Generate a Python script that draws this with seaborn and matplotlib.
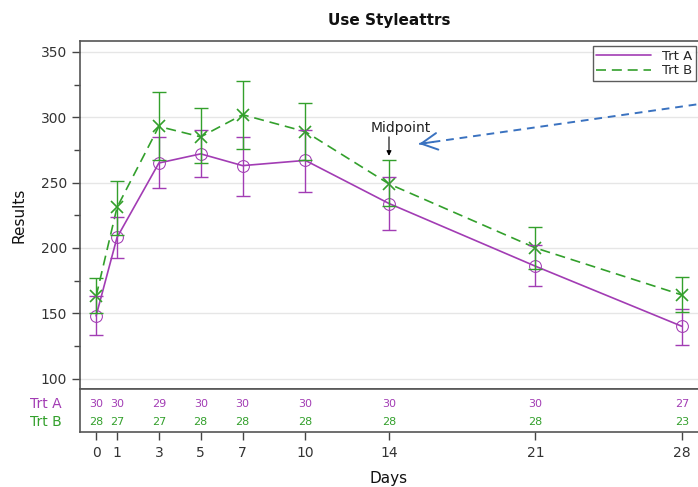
import matplotlib
matplotlib.use("Agg")
import matplotlib.pyplot as plt
import seaborn as sns
import pandas as pd
import numpy as np
from matplotlib.lines import Line2D

days = [0, 1, 3, 5, 7, 10, 14, 21, 28]
trt_a_mean = [148, 208, 265, 272, 263, 267, 234, 186, 140]
trt_a_low = [133, 192, 246, 254, 240, 243, 214, 171, 126]
trt_a_high = [163, 224, 285, 290, 285, 290, 254, 202, 153]
trt_b_mean = [163, 231, 293, 285, 302, 289, 249, 200, 164]
trt_b_low = [150, 210, 267, 265, 276, 267, 232, 184, 151]
trt_b_high = [177, 251, 319, 307, 328, 311, 267, 216, 178]
trt_a_n = [30, 30, 29, 30, 30, 30, 30, 30, 27]
trt_b_n = [28, 27, 27, 28, 28, 28, 28, 28, 23]
groups = ["Trt A", "Trt B"]
yticks = [100, 150, 200, 250, 300, 350]

col_a = "#a23cb4"
col_b = "#33a02c"
palette = {"Trt A": col_a, "Trt B": col_b}

df = pd.DataFrame({
    "Days": days * 2,
    "Results": trt_a_mean + trt_b_mean,
    "Trt": ["Trt A"] * len(days) + ["Trt B"] * len(days),
})

sns.set_theme(style="white")
plt.rcParams["font.family"] = ["DejaVu Sans"]

fig = plt.figure(figsize=(6.98, 4.87), dpi=100)
W, H = 698, 487
left = 80 / W
right = 1.0
ax = fig.add_axes([left, 1 - 389 / H, right - left, (389 - 41) / H])
axt = fig.add_axes([left, 1 - 432 / H, right - left, (432 - 389) / H], sharex=ax)

sns.lineplot(data=df, x="Days", y="Results", hue="Trt", style="Trt",
             palette=palette, markers={"Trt A": "o", "Trt B": "X"},
             dashes={"Trt A": "", "Trt B": (6, 3.5)}, ax=ax, linewidth=1.2,
             legend=False)
for line, c in zip(ax.lines, [col_a, col_b]):
    line.set_markerfacecolor("none")
    line.set_markeredgecolor(c)
ax.lines[0].set_marker("o")
ax.lines[0].set_markersize(8.5)
ax.lines[1].set_marker("x")
ax.lines[1].set_markersize(9)
ax.lines[1].set_markeredgewidth(1.2)

for mean, lo, hi, c in [(trt_a_mean, trt_a_low, trt_a_high, col_a),
                        (trt_b_mean, trt_b_low, trt_b_high, col_b)]:
    m = np.array(mean)
    err = [m - np.array(lo), np.array(hi) - m]
    ax.errorbar(days, m, yerr=err, fmt="none", ecolor=c, elinewidth=1.0,
                capsize=5, capthick=1.0)

ax.set_xlim(-0.77, 28.77)
ax.set_ylim(92, 358.4)
ax.set_yticks(yticks)
ax.set_yticks([125, 175, 225, 275, 325], minor=True)
ax.tick_params(axis="y", which="major", length=6, width=1, color="#444444",
               labelsize=10, labelcolor="#333333", left=True)
ax.tick_params(axis="y", which="minor", length=4, width=1, color="#444444", left=True)
ax.grid(axis="y", color="#e6e6e6", linewidth=1)
ax.tick_params(axis="x", bottom=False, labelbottom=False)
ax.set_xlabel("")
ax.set_ylabel("Results", fontsize=11, color="#111111", labelpad=10)
for s in ax.spines.values():
    s.set_color("#555555")
    s.set_linewidth(1.2)
ax.spines["right"].set_visible(False)

handles = [Line2D([], [], color=col_a, lw=1.2),
           Line2D([], [], color=col_b, lw=1.2, dashes=(6, 3.5))]
leg = ax.legend(handles, groups, loc="upper right", bbox_to_anchor=(0.996, 0.985),
                frameon=True, fancybox=False, fontsize=9.5, handlelength=4.2,
                borderpad=0.25, labelspacing=0.15, handletextpad=0.8,
                borderaxespad=0)
leg.get_frame().set_edgecolor("#333333")
leg.get_frame().set_linewidth(1.0)

# Midpoint annotation
ax.annotate("", xy=(14, 270.5), xytext=(14, 285),
            arrowprops=dict(arrowstyle="-|>", color="black", lw=0.8,
                            mutation_scale=7, shrinkA=0, shrinkB=0))
ax.text(14.55, 286.5, "Midpoint", ha="center", va="bottom", fontsize=10, color="#222222")

# blue dashed arrow
tip = (15.44, 279.6)
tail = (28.77, 310)
ax.plot([tip[0], tail[0]], [tip[1], tail[1]], color="#3a72c0", lw=1.4,
        linestyle=(0, (4, 3)), clip_on=False)
dx, dy = tail[0] - tip[0], tail[1] - tip[1]
ax.annotate("", xy=tip, xytext=(tip[0] + dx * 0.05, tip[1] + dy * 0.05),
            arrowprops=dict(arrowstyle="->,head_length=0.58,head_width=0.3",
                            color="#3a72c0", lw=1.4, mutation_scale=20,
                            shrinkA=0, shrinkB=0, linestyle="-"))

# table axes
axt.set_ylim(0, 1)
for d, n in zip(days, trt_a_n):
    axt.text(d, 0.64, str(n), ha="center", va="center", fontsize=8, color=col_a)
for d, n in zip(days, trt_b_n):
    axt.text(d, 0.23, str(n), ha="center", va="center", fontsize=8, color=col_b)
axt.text(-0.03, 0.64, "Trt A", transform=axt.transAxes, ha="right", va="center",
         fontsize=10, color=col_a)
axt.text(-0.03, 0.23, "Trt B", transform=axt.transAxes, ha="right", va="center",
         fontsize=10, color=col_b)
axt.set_yticks([])
axt.set_xticks(days)
axt.set_xticklabels([str(d) for d in days])
axt.tick_params(axis="x", length=6, width=1, color="#444444", labelsize=10,
                labelcolor="#333333", bottom=True, pad=4)
axt.set_xlabel("Days", fontsize=11, color="#111111", labelpad=8)
for s in axt.spines.values():
    s.set_color("#555555")
    s.set_linewidth(1.2)
axt.spines["right"].set_visible(False)
axt.set_facecolor("white")

fig.text(389 / W, 1 - 20 / H, "Use Styleattrs", ha="center", va="center",
         fontsize=11, fontweight="bold", color="#111111")

fig.savefig("out.png", dpi=100)
